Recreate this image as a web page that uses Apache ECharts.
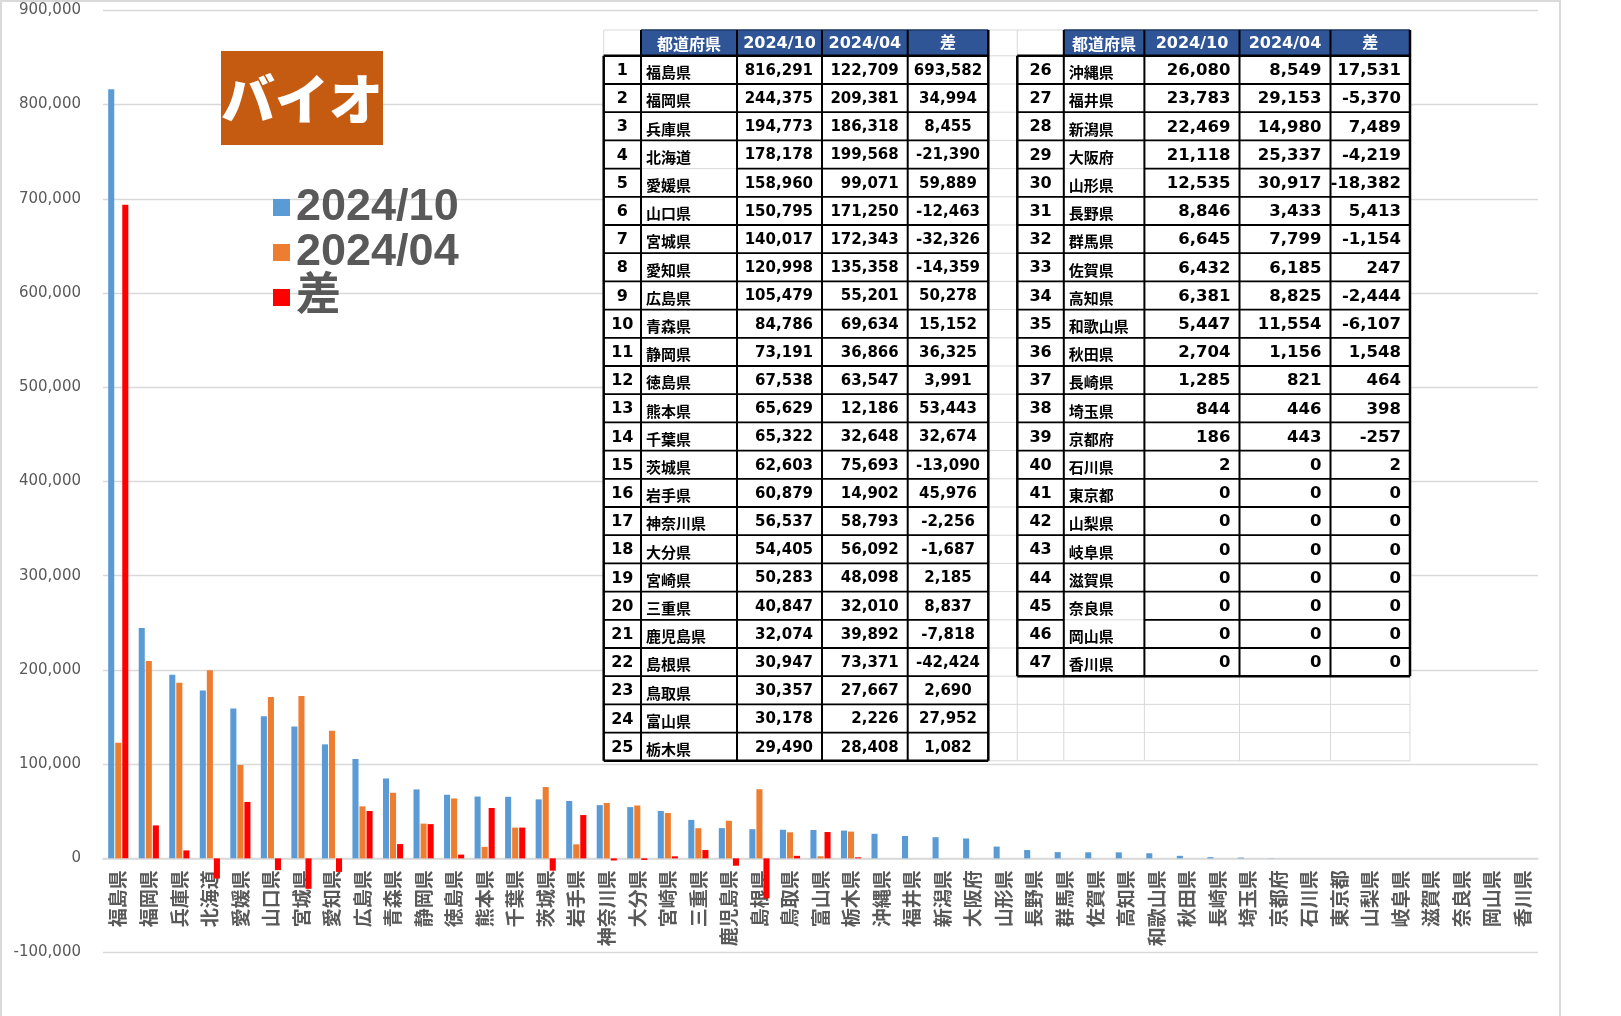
<!DOCTYPE html>
<html>
<head>
<meta charset="utf-8">
<script src="https://cdn.jsdelivr.net/npm/echarts@6/dist/echarts.min.js"></script>
<style>
html,body{margin:0;padding:0;background:#fff;}
#chart{width:1621px;height:1016px;}
</style>
</head>
<body>
<div id="chart"></div>
<script>
// ---- data ----
const titleText = 'バイオ';
const seriesNames = ['2024/10', '2024/04', '差'];
const tableHeader = ['都道府県', '2024/10', '2024/04', '差'];
const prefs = ['福島県','福岡県','兵庫県','北海道','愛媛県','山口県','宮城県','愛知県','広島県','青森県',
  '静岡県','徳島県','熊本県','千葉県','茨城県','岩手県','神奈川県','大分県','宮崎県','三重県',
  '鹿児島県','島根県','鳥取県','富山県','栃木県','沖縄県','福井県','新潟県','大阪府','山形県',
  '長野県','群馬県','佐賀県','高知県','和歌山県','秋田県','長崎県','埼玉県','京都府','石川県',
  '東京都','山梨県','岐阜県','滋賀県','奈良県','岡山県','香川県'];
const oct = [816291,244375,194773,178178,158960,150795,140017,120998,105479,84786,
  73191,67538,65629,65322,62603,60879,56537,54405,50283,40847,
  32074,30947,30357,30178,29490,26080,23783,22469,21118,12535,
  8846,6645,6432,6381,5447,2704,1285,844,186,2,
  0,0,0,0,0,0,0];
const apr = [122709,209381,186318,199568,99071,171250,172343,135358,55201,69634,
  36866,63547,12186,32648,75693,14902,58793,56092,48098,32010,
  39892,73371,27667,2226,28408,8549,29153,14980,25337,30917,
  3433,7799,6185,8825,11554,1156,821,446,443,0,
  0,0,0,0,0,0,0];
const diff = [693582,34994,8455,-21390,59889,-12463,-32326,-14359,50278,15152,
  36325,3991,53443,32674,-13090,45976,-2256,-1687,2185,8837,
  -7818,-42424,2690,27952,1082,17531,-5370,7489,-4219,-18382,
  5413,-1154,247,-2444,-6107,1548,464,398,-257,2,
  0,0,0,0,0,0,0];
// the chart plots 2024/04 and 差 only for the first 25 rows of the table
const chartedRows = 25;
const yTicks = {min: -100000, max: 900000, interval: 100000};

// ---- chart ----
const fmt = v => Number(v).toLocaleString('en-US');
const chart = echarts.init(document.getElementById('chart'), null, {renderer: 'canvas'});

const gridTop = 10.3, gridBottom = 63.4;
const gridH = 1016 - gridTop - gridBottom;
// the category axis sits on the zero line: shift it up from the grid bottom by the span of (0 - min)
const zeroOffset = -gridH * (0 - yTicks.min) / (yTicks.max - yTicks.min);

// table graphics
const G = [];
const hdrTop = 30, hdrBot = 55.8, rowH = 28.2;
const leftCols = [603.7, 641, 737, 822, 907.7, 988.3];
const rightCols = [1017.3, 1063.8, 1144.4, 1239.5, 1330.5, 1410];
const totalRows = 25;
const bottomY = hdrBot + totalRows * rowH;
const TZ = 50;
G.push({type:'rect', z:TZ, shape:{x:leftCols[0], y:hdrTop, width:rightCols[5]-leftCols[0], height:bottomY-hdrTop}, style:{fill:'#fff'}});
// light excel grid
const allCols = leftCols.concat(rightCols);
allCols.forEach(x => G.push({type:'line', z:TZ+1, shape:{x1:x, y1:hdrTop, x2:x, y2:bottomY}, style:{stroke:'#d9d9d9', lineWidth:1}}));
for (let k = 0; k <= totalRows + 1; k++) {
  const y = k === 0 ? hdrTop : hdrBot + (k-1)*rowH;
  G.push({type:'line', z:TZ+1, shape:{x1:leftCols[0], y1:y, x2:rightCols[5], y2:y}, style:{stroke:'#d9d9d9', lineWidth:1}});
}
function drawTable(cols, start, count, valSize, diffCenter, mergedAfter) {
  const bot = hdrBot + count*rowH;
  G.push({type:'rect', z:TZ+2, shape:{x:cols[1], y:hdrTop, width:cols[5]-cols[1], height:hdrBot-hdrTop}, style:{fill:'#2F5597'}});
  tableHeader.forEach((h, j) => {
    const cx = (cols[j+1]+cols[j+2])/2;
    G.push({type:'text', z:TZ+5, x:cx, y:(hdrTop+hdrBot)/2+1, style:{text:h, fill:'#fff', align:'center', verticalAlign:'middle', textAlign:'center', textVerticalAlign:'middle',
      font: j===0 ? "bold 16px 'Noto Sans CJK JP'" : "bold 16px 'DejaVu Sans', 'Noto Sans CJK JP'"}});
  });
  for (let k = 0; k <= count; k++) {
    const y = hdrBot + k*rowH;
    const idx = start + k - 1;
    const lw = (k === 0 || k === count) ? 2.5 : 1.8;
    if (mergedAfter.includes(idx)) {
      G.push({type:'line', z:TZ+3, shape:{x1:cols[0], y1:y, x2:cols[1], y2:y}, style:{stroke:'#000', lineWidth:lw}});
      G.push({type:'line', z:TZ+3, shape:{x1:cols[2], y1:y, x2:cols[5], y2:y}, style:{stroke:'#000', lineWidth:lw}});
    } else {
      G.push({type:'line', z:TZ+3, shape:{x1:cols[0], y1:y, x2:cols[5], y2:y}, style:{stroke:'#000', lineWidth:lw}});
    }
  }
  G.push({type:'line', z:TZ+3, shape:{x1:cols[1], y1:hdrTop, x2:cols[5], y2:hdrTop}, style:{stroke:'#1f3864', lineWidth:1.5}});
  cols.forEach((x, j) => {
    const y1 = j === 0 ? hdrBot : hdrTop;
    G.push({type:'line', z:TZ+3, shape:{x1:x, y1:y1, x2:x, y2:bot}, style:{stroke:'#000', lineWidth:(j===0||j===5)?2.5:2}});
  });
  for (let i = 0; i < count; i++) {
    const idx = start + i;
    const cy = hdrBot + (i+0.5)*rowH + 1;
    G.push({type:'text', z:TZ+5, x:(cols[0]+cols[1])/2, y:cy, style:{text:String(idx+1), fill:'#000', align:'center', verticalAlign:'middle', textAlign:'center', textVerticalAlign:'middle', font:"bold 16px 'DejaVu Sans'"}});
    G.push({type:'text', z:TZ+5, x:cols[1]+5, y:cy+1.5, style:{text:prefs[idx], fill:'#000', align:'left', verticalAlign:'middle', textAlign:'left', textVerticalAlign:'middle', font:"bold 15px 'Noto Sans CJK JP'"}});
    [oct[idx], apr[idx], diff[idx]].forEach((v, j) => {
      const c0 = cols[j+2], c1 = cols[j+3];
      const center = (j === 2 && diffCenter);
      G.push({type:'text', z:TZ+5, x: center ? (c0+c1)/2 : c1-9, y:cy, style:{text:fmt(v), fill:'#000',
        align: center ? 'center' : 'right', textAlign: center ? 'center' : 'right', verticalAlign:'middle', textVerticalAlign:'middle',
        font:"bold " + valSize + "px 'DejaVu Sans'"}});
    });
  }
}
drawTable(leftCols, 0, 25, 15, true, [3]);
drawTable(rightCols, 25, 22, 16.5, false, [28, 44]);

// title box
G.push({type:'rect', z:TZ, shape:{x:221, y:51, width:162, height:94}, style:{fill:'#C55A11'}});
G.push({type:'text', z:TZ+1, x:302, y:99, style:{text:titleText, fill:'#fff', align:'center', verticalAlign:'middle', textAlign:'center', textVerticalAlign:'middle', font:"900 54px 'Noto Sans CJK JP'"}});
// chart area border
G.push({type:'rect', z:0, silent:true, shape:{x:1, y:1, width:1559, height:1040}, style:{fill:'none', stroke:'#d9d9d9', lineWidth:2}});

const option = {
  animation: false,
  backgroundColor: '#fff',
  grid: {left: 103, right: 83, top: gridTop, bottom: gridBottom, containLabel: false, outerBoundsMode: 'none'},
  legend: {
    orient: 'vertical', left: 268, top: 180,
    itemWidth: 17, itemHeight: 17, itemGap: 0, icon: 'rect',
    data: seriesNames,
    textStyle: {fontSize: 45, lineHeight: 43.4, color: '#595959', fontWeight: 'bold', fontFamily: "'Liberation Sans', 'Noto Sans CJK JP'", padding: [0,0,0,1]}
  },
  xAxis: {
    type: 'category', data: prefs, position: 'bottom', offset: zeroOffset,
    axisLine: {onZero: false, lineStyle: {color: '#d9d9d9', width: 1.5}},
    axisTick: {show: false},
    axisLabel: {interval: 0, rotate: 90, margin: 12, fontSize: 19, fontWeight: 'bold', color: '#595959', fontFamily: "'Noto Sans CJK JP'"}
  },
  yAxis: {
    type: 'value', min: yTicks.min, max: yTicks.max, interval: yTicks.interval,
    axisLine: {show: false}, axisTick: {show: false},
    splitLine: {lineStyle: {color: '#d9d9d9', width: 1.3}},
    axisLabel: {formatter: v => fmt(v), fontSize: 15, color: '#595959', fontFamily: "'DejaVu Sans'", margin: 22}
  },
  series: [
    {name: seriesNames[0], type: 'bar', data: oct, itemStyle: {color: '#5B9BD5'}, barGap: '16%', barCategoryGap: '34%'},
    {name: seriesNames[1], type: 'bar', data: apr.map((v, i) => i < chartedRows ? v : null), itemStyle: {color: '#ED7D31'}, barGap: '16%', barCategoryGap: '34%'},
    {name: seriesNames[2], type: 'bar', data: diff.map((v, i) => i < chartedRows ? v : null), itemStyle: {color: '#FF0000'}, barGap: '16%', barCategoryGap: '34%'}
  ],
  graphic: {elements: G}
};
chart.setOption(option);
</script>
</body>
</html>
